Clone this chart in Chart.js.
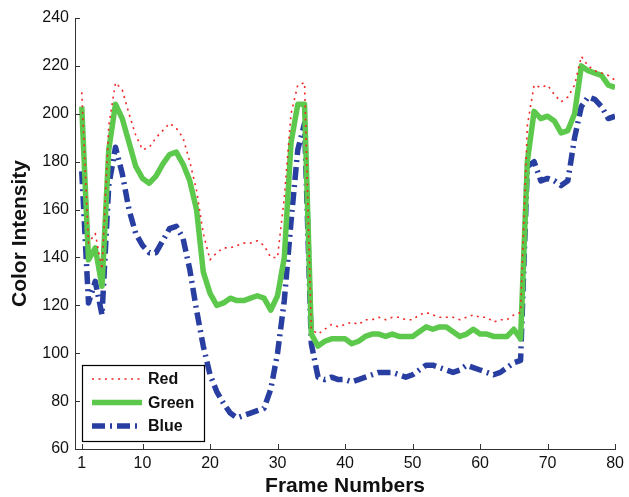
<!DOCTYPE html>
<html>
<head>
<meta charset="utf-8">
<script src="https://cdn.jsdelivr.net/npm/chart.js@4/dist/chart.umd.min.js"></script>
<style>
  html, body { margin: 0; padding: 0; background: #fff; }
  #wrap { width: 629px; height: 497px; }
</style>
</head>
<body>
<div id="wrap"><canvas id="chart" width="629" height="497"></canvas></div>
<script>
// values, one per frame (1..80)
var red = [209, 146, 150, 135, 195, 213, 210, 200, 191, 185,
           186, 190, 193, 196, 194, 190, 180, 168, 150, 139,
           142, 144, 144, 145, 146, 146, 147, 145, 140, 140,
           165, 200, 212, 213, 110, 108, 110, 112, 111, 112,
           113, 112, 114, 114, 115, 114, 115, 115, 114, 114,
           116, 117, 116, 115, 115, 115, 114, 115, 116, 115,
           115, 113, 114, 114, 116, 117, 195, 212, 211, 212,
           208, 205, 207, 212, 224, 220, 218, 217, 216, 214]
var green = [203, 139, 144, 128, 185, 204, 198, 188, 178, 173,
             171, 174, 179, 183, 184, 179, 172, 160, 134, 125,
             120, 121, 123, 122, 122, 123, 124, 123, 118, 124,
             140, 188, 204, 204, 108, 103, 105, 106, 106, 106,
             104, 105, 107, 108, 108, 107, 108, 107, 107, 107,
             109, 111, 110, 111, 111, 109, 107, 108, 110, 108,
             108, 107, 107, 107, 110, 106, 180, 201, 198, 199,
             197, 192, 193, 200, 220, 218, 217, 216, 212, 211]
var blue = [176, 121, 130, 116, 170, 186, 175, 160, 150, 145,
            142, 142, 147, 152, 153, 148, 135, 118, 103, 91,
            84, 79, 75, 73, 74, 75, 76, 77, 85, 100,
            122, 155, 185, 196, 104, 90, 89, 90, 89, 89,
            88, 89, 90, 91, 92, 92, 92, 91, 90, 91,
            93, 95, 95, 94, 93, 92, 93, 95, 94, 93,
            92, 91, 92, 94, 96, 97, 178, 180, 172, 173,
            172, 170, 172, 190, 203, 207, 206, 203, 198, 199]
var xTicks = [1, 10, 20, 30, 40, 50, 60, 70, 80]
var yTicks = [60, 80, 100, 120, 140, 160, 180, 200, 220, 240]

var frames = red.map((v, i) => i + 1) //frame numbers 1..80

function pts(vals) {
    return vals.map((v, i) => ({x: frames[i], y: v}))
}

var fontFam = '"Liberation Sans", Arial, Helvetica, sans-serif'

// MATLAB style ticks pointing into the plot
var innerTicks = {
    id: 'innerTicks',
    afterDraw(chart) {
        var ctx = chart.ctx, ca = chart.chartArea
        var xs = chart.scales.x, ys = chart.scales.y
        ctx.save()
        ctx.strokeStyle = '#333'
        ctx.lineWidth = 1
        ctx.beginPath()
        xTicks.forEach(v => {
            var px = Math.round(xs.getPixelForValue(v)) + 0.5
            ctx.moveTo(px, ca.bottom)
            ctx.lineTo(px, ca.bottom - 5)
        })
        yTicks.forEach(v => {
            var py = Math.round(ys.getPixelForValue(v)) + 0.5
            ctx.moveTo(ca.left, py)
            ctx.lineTo(ca.left + 5, py)
        })
        ctx.stroke()
        ctx.restore()
    }
}

// legend box in lower left corner of the plot
var boxLegend = {
    id: 'boxLegend',
    afterDraw(chart) {
        var ctx = chart.ctx, ca = chart.chartArea
        var bx = ca.left + 7, by = ca.bottom - 84, bw = 122, bh = 76
        ctx.save()
        ctx.fillStyle = '#fff'
        ctx.fillRect(bx, by, bw, bh)
        ctx.strokeStyle = '#000'
        ctx.lineWidth = 1.2
        ctx.strokeRect(bx + 0.5, by + 0.5, bw, bh)
        chart.data.datasets.forEach((ds, i) => {
            var ly = by + 14 + i * 23.5
            ctx.beginPath()
            ctx.strokeStyle = ds.borderColor
            ctx.lineWidth = ds.borderWidth
            ctx.setLineDash(ds.borderDash || [])
            ctx.moveTo(bx + 10, ly)
            ctx.lineTo(bx + 60, ly)
            ctx.stroke()
            ctx.setLineDash([])
            ctx.fillStyle = '#111'
            ctx.font = 'bold 16px ' + fontFam
            ctx.textBaseline = 'middle'
            ctx.fillText(ds.label, bx + 66, ly + 1)
        })
        ctx.restore()
    }
}

var ctx = document.getElementById('chart').getContext('2d')
var chart = new Chart(ctx, {
    type: 'line',
    data: {
        datasets: [{
            label: 'Red',
            data: pts(red),
            borderColor: 'rgb(240, 40, 40)',
            borderWidth: 1.6,
            borderDash: [2, 4.5]
        }, {
            label: 'Green',
            data: pts(green),
            borderColor: 'rgb(92, 200, 76)',
            borderWidth: 5.5
        }, {
            label: 'Blue',
            data: pts(blue),
            borderColor: 'rgb(40, 62, 160)',
            borderWidth: 5.5,
            borderDash: [13, 5, 2, 5]
        }]
    },
    options: {
        responsive: false,
        animation: false,
        events: [],
        layout: {padding: {top: 18, right: 9, left: 0, bottom: 0}},
        elements: {
            point: {radius: 0},
            line: {tension: 0, borderCapStyle: 'butt', borderJoinStyle: 'round'}
        },
        plugins: {
            legend: {display: false},
            tooltip: {enabled: false}
        },
        scales: {
            x: {
                type: 'linear',
                min: 0,
                max: 80,
                afterFit: s => { s.height = 48 },
                afterBuildTicks: s => { s.ticks = xTicks.map(v => ({value: v})) },
                grid: {display: false, drawTicks: false},
                border: {display: true, color: '#333', width: 1},
                ticks: {
                    padding: 5,
                    color: '#111',
                    font: {family: fontFam, size: 16},
                    maxRotation: 0,
                    autoSkip: false
                },
                title: {
                    display: true,
                    text: 'Frame Numbers',
                    color: '#111',
                    font: {family: fontFam, size: 21, weight: 'bold', lineHeight: 1},
                    padding: {top: 0, bottom: 0}
                }
            },
            y: {
                min: 60,
                max: 240,
                afterFit: s => { s.width = 75 },
                afterBuildTicks: s => { s.ticks = yTicks.map(v => ({value: v})) },
                grid: {display: false, drawTicks: false},
                border: {display: true, color: '#333', width: 1},
                ticks: {
                    padding: 6,
                    color: '#111',
                    font: {family: fontFam, size: 16}
                },
                title: {
                    display: true,
                    text: 'Color Intensity',
                    color: '#111',
                    font: {family: fontFam, size: 21, weight: 'bold', lineHeight: 1},
                    padding: {top: 10, bottom: 0}
                }
            }
        }
    },
    plugins: [innerTicks, boxLegend]
})
</script>
</body>
</html>
